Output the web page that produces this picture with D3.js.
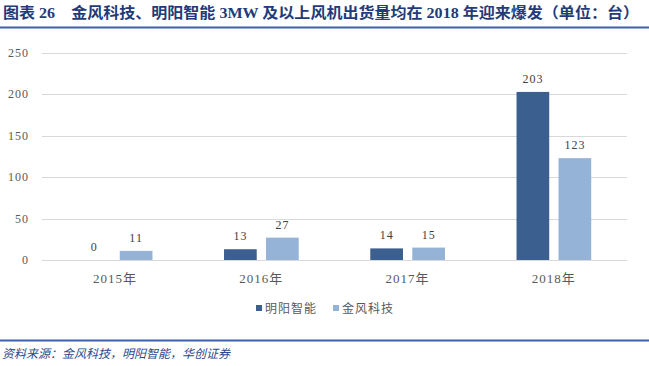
<!DOCTYPE html>
<html>
<head>
<meta charset="utf-8">
<script src="https://cdn.jsdelivr.net/npm/d3@7"></script>
<style>
  body { margin: 0; background: #fff; }
  svg text { font-family: "Liberation Serif", "Noto Sans CJK SC", serif; }
</style>
</head>
<body>
<div id="chart"></div>
<script>
// data
var years = ["2015年", "2016年", "2017年", "2018年"];
var seriesNames = ["明阳智能", "金风科技"];
var mingyang = [0, 13, 14, 203];
var goldwind = [11, 27, 15, 123];
var yTicks = [0, 50, 100, 150, 200, 250];
var colors = ["#3b5f8e", "#95b3d7"];

var width = 649, height = 366;
var margin = {top: 53, right: 22, bottom: 106, left: 42};

var svg = d3.select("#chart").append("svg")
  .attr("width", width)
  .attr("height", height);

// title + rules
svg.append("text")
  .attr("x", 3)
  .attr("y", 18)
  .attr("fill", "#1f3b7a")
  .attr("font-weight", "bold")
  .attr("font-size", 15)
  .attr("textLength", 636)
  .attr("lengthAdjust", "spacingAndGlyphs")
  .text("图表 26　金风科技、明阳智能 3MW 及以上风机出货量均在 2018 年迎来爆发（单位：台）");

svg.append("line")
  .attr("x1", 0).attr("x2", width)
  .attr("y1", 27.5).attr("y2", 27.5)
  .attr("stroke", "#3a62a8")
  .attr("stroke-width", 2);

svg.append("line")
  .attr("x1", 0).attr("x2", width)
  .attr("y1", 340.5).attr("y2", 340.5)
  .attr("stroke", "#3a62a8")
  .attr("stroke-width", 2);

svg.append("text")
  .attr("x", 2)
  .attr("y", 358)
  .attr("fill", "#2b4a8a")
  .attr("font-size", 12)
  .attr("font-style", "italic")
  .text("资料来源：金风科技，明阳智能，华创证券");

var g = svg.append("g")
  .attr("transform", "translate(" + margin.left + "," + margin.top + ")");
var w = width - margin.left - margin.right,
    h = 260 - margin.top;

var x = d3.scaleBand().domain(years).range([0, w]);
var y = d3.scaleLinear().domain([0, 250]).range([h, 0]);

// gridlines
g.selectAll(".grid")
  .data(yTicks.slice(1))
  .enter().append("line")
    .attr("x1", 0).attr("x2", w)
    .attr("y1", function(d) { return Math.round(y(d)) + 0.5; })
    .attr("y2", function(d) { return Math.round(y(d)) + 0.5; })
    .attr("stroke", "#d9d9d9")
    .attr("stroke-width", 1);

g.append("line")
  .attr("x1", 0).attr("x2", w)
  .attr("y1", h + 0.5).attr("y2", h + 0.5)
  .attr("stroke", "#d9d9d9");

// y labels
g.selectAll(".ytick")
  .data(yTicks)
  .enter().append("text")
    .attr("x", -13)
    .attr("y", function(d) { return y(d) + 4; })
    .attr("text-anchor", "end")
    .attr("font-size", 12)
    .attr("fill", "#595959")
    .attr("letter-spacing", 1)
    .text(function(d) { return d; });

// x labels
g.selectAll(".xtick")
  .data(years)
  .enter().append("text")
    .attr("x", function(d) { return x(d) + x.bandwidth() / 2; })
    .attr("y", h + 23)
    .attr("text-anchor", "middle")
    .attr("font-size", 13)
    .attr("fill", "#595959")
    .attr("letter-spacing", 1)
    .text(function(d) { return d; });

var series = [mingyang, goldwind];
var groupW = 74.7;
var groupOff = (x.bandwidth() - groupW) / 2;
var barW = 32.7;

series.forEach(function(vals, si) {
  var off = groupOff + (si === 0 ? 0 : groupW - barW);
  g.selectAll(".bar" + si)
    .data(vals)
    .enter().append("rect")
      .attr("x", function(d, i) { return x(years[i]) + off; })
      .attr("y", function(d) { return y(d); })
      .attr("width", barW)
      .attr("height", function(d) { return h - y(d); })
      .attr("fill", colors[si]);

  g.selectAll(".lab" + si)
    .data(vals)
    .enter().append("text")
      .attr("x", function(d, i) { return x(years[i]) + off + barW / 2; })
      .attr("y", function(d) { return y(d) - 9; })
      .attr("text-anchor", "middle")
      .attr("font-size", 12)
      .attr("fill", "#404040")
      .attr("letter-spacing", 1)
      .text(function(d) { return d; });
});

// legend
var legend = svg.append("g");
var legX = [256, 333];
seriesNames.forEach(function(name, i) {
  legend.append("rect")
    .attr("x", legX[i])
    .attr("y", 305)
    .attr("width", 6)
    .attr("height", 6)
    .attr("fill", colors[i]);
  legend.append("text")
    .attr("x", legX[i] + 9)
    .attr("y", 313)
    .attr("font-size", 12)
    .attr("fill", "#595959")
    .attr("letter-spacing", 1)
    .text(name);
});
</script>
</body>
</html>
